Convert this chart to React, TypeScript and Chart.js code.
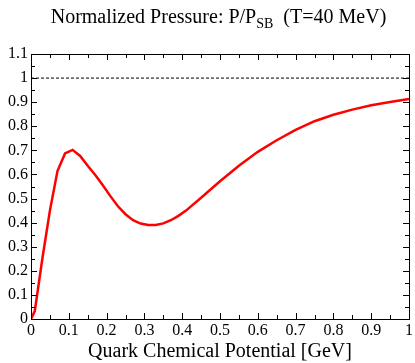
import React, { useEffect, useRef } from "react";
import { Chart, registerables } from "chart.js";

Chart.register(...registerables);

const muValues = [0, 0.01, 0.03, 0.05, 0.07, 0.09, 0.11, 0.13, 0.15, 0.17, 0.19, 0.21, 0.23, 0.25, 0.27, 0.29, 0.31, 0.33, 0.35, 0.37, 0.39, 0.41, 0.45, 0.5, 0.55, 0.6, 0.65, 0.7, 0.75, 0.8, 0.85, 0.9, 0.95, 1.0];
const pressureRatio = [0, 0.033, 0.25, 0.45, 0.614, 0.687, 0.702, 0.677, 0.636, 0.598, 0.555, 0.51, 0.468, 0.435, 0.41, 0.396, 0.39, 0.39, 0.397, 0.41, 0.428, 0.45, 0.503, 0.572, 0.636, 0.694, 0.742, 0.785, 0.821, 0.848, 0.869, 0.887, 0.901, 0.913];
const sbLimitX = [0, 1];
const sbLimitY = [1, 1];
const xTickLabels = ["0", "0.1", "0.2", "0.3", "0.4", "0.5", "0.6", "0.7", "0.8", "0.9", "1"];
const yTickLabels = ["0", "0.1", "0.2", "0.3", "0.4", "0.5", "0.6", "0.7", "0.8", "0.9", "1", "1.1"];
const titleMain = "Normalized Pressure: P/P";
const titleSub = "SB";
const titleTail = "  (T=40 MeV)";
const xAxisTitle = "Quark Chemical Potential [GeV]";

const FONT = "'Liberation Serif', 'Times New Roman', serif";

const framePlugin = {
  id: "frame",
  afterDraw(chart: any) {
    const { ctx, chartArea, scales } = chart;
    const xs = scales.x;
    const ys = scales.y;
    ctx.save();
    ctx.strokeStyle = "#000";
    ctx.lineWidth = 1;
    ctx.beginPath();
    for (let i = 0; i <= 20; i++) {
      const v = i * 0.05;
      const px = Math.round(xs.getPixelForValue(v)) + 0.5;
      const len = i % 2 === 0 ? 6 : 4;
      ctx.moveTo(px, chartArea.bottom);
      ctx.lineTo(px, chartArea.bottom - len);
      ctx.moveTo(px, chartArea.top);
      ctx.lineTo(px, chartArea.top + len);
    }
    for (let i = 0; i <= 22; i++) {
      const v = i * 0.05;
      const py = Math.round(ys.getPixelForValue(v)) + 0.5;
      const len = i % 2 === 0 ? 6 : 4;
      ctx.moveTo(chartArea.left, py);
      ctx.lineTo(chartArea.left + len, py);
      ctx.moveTo(chartArea.right, py);
      ctx.lineTo(chartArea.right - len, py);
    }
    ctx.stroke();
    ctx.strokeRect(
      Math.round(chartArea.left) + 0.5,
      Math.round(chartArea.top) + 0.5,
      Math.round(chartArea.right - chartArea.left),
      Math.round(chartArea.bottom - chartArea.top)
    );

    // title
    ctx.fillStyle = "#000";
    ctx.textBaseline = "alphabetic";
    ctx.textAlign = "left";
    const mainFont = `20px ${FONT}`;
    const subFont = `14px ${FONT}`;
    ctx.font = mainFont;
    const w1 = ctx.measureText(titleMain).width;
    const w3 = ctx.measureText(titleTail).width;
    ctx.font = subFont;
    const w2 = ctx.measureText(titleSub).width;
    const total = w1 + w2 + w3;
    let x0 = 218.5 - total / 2;
    const base = 23;
    ctx.font = mainFont;
    ctx.fillText(titleMain, x0, base);
    ctx.font = subFont;
    ctx.fillText(titleSub, x0 + w1, base + 5);
    ctx.font = mainFont;
    ctx.fillText(titleTail, x0 + w1 + w2, base);

    // x axis title
    ctx.textAlign = "center";
    ctx.font = `20px ${FONT}`;
    ctx.fillText(xAxisTitle, (chartArea.left + chartArea.right) / 2, 357);
    ctx.restore();
  },
};

export default function App() {
  const ref = useRef<HTMLCanvasElement>(null);
  useEffect(() => {
    if (!ref.current) return;
    const curve = muValues.map((m, i) => ({ x: m, y: pressureRatio[i] }));
    const sb = sbLimitX.map((m, i) => ({ x: m, y: sbLimitY[i] }));
    const chart = new Chart(ref.current, {
      type: "line",
      data: {
        datasets: [
          {
            data: sb,
            borderColor: "#000",
            borderWidth: 1,
            borderDash: [3, 2],
            pointRadius: 0,
            tension: 0,
          },
          {
            data: curve,
            borderColor: "#ff0000",
            borderWidth: 2.5,
            pointRadius: 0,
            tension: 0,
          },
        ],
      },
      options: {
        animation: false,
        responsive: false,
        maintainAspectRatio: false,
        layout: { padding: { top: 54, right: 4, left: 0, bottom: 0 } },
        plugins: { legend: { display: false }, tooltip: { enabled: false }, title: { display: false } },
        scales: {
          x: {
            type: "linear",
            min: 0,
            max: 1,
            grid: { display: false, drawTicks: false },
            border: { display: true, color: "#000", width: 1 },
            ticks: {
              stepSize: 0.1,
              autoSkip: false,
              maxRotation: 0,
              padding: 2,
              color: "#000",
              font: { family: FONT, size: 16 },
              callback: (_v: any, i: number) => xTickLabels[i],
            },
            afterFit: (s: any) => {
              s.height = 44;
            },
          },
          y: {
            type: "linear",
            min: 0,
            max: 1.1,
            grid: { display: false, drawTicks: false },
            border: { display: true, color: "#000", width: 1 },
            ticks: {
              stepSize: 0.1,
              autoSkip: false,
              padding: 3,
              color: "#000",
              font: { family: FONT, size: 16 },
              callback: (_v: any, i: number) => yTickLabels[i],
            },
            afterFit: (s: any) => {
              s.width = 31;
            },
          },
        },
      },
      plugins: [framePlugin],
    });
    return () => chart.destroy();
  }, []);
  return (
    <div style={{ position: "absolute", left: 0, top: 0, width: 415, height: 363, background: "#fff" }}>
      <canvas ref={ref} width={415} height={363} />
    </div>
  );
}
